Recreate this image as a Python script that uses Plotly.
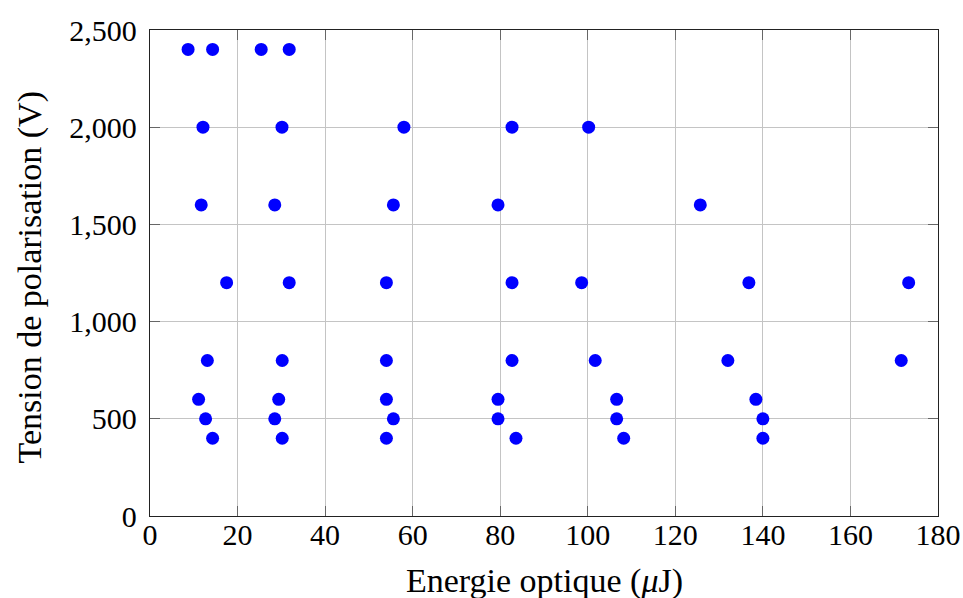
import plotly.graph_objects as go

# Energie optique (µJ) and Tension de polarisation (V)
energy_2400 = [8.7, 14.3, 25.4, 31.8]
energy_2000 = [12.1, 30.15, 58.0, 82.7, 100.2]
energy_1600 = [11.7, 28.5, 55.6, 79.5, 125.7]
energy_1200 = [17.5, 31.8, 54.0, 82.7, 98.6, 136.8, 173.3]
energy_800 = [13.1, 30.2, 54.0, 82.7, 101.7, 132.0, 171.6]
energy_600 = [11.1, 29.4, 54.0, 79.5, 106.6, 138.4]
energy_500 = [12.7, 28.5, 55.6, 79.5, 106.6, 140.0]
energy_400 = [14.3, 30.2, 54.0, 83.6, 108.2, 140.0]

groups = [
    (2400, energy_2400), (2000, energy_2000), (1600, energy_1600),
    (1200, energy_1200), (800, energy_800), (600, energy_600),
    (500, energy_500), (400, energy_400),
]

x_vals, y_vals = [], []
for v, es in groups:
    for e in es:
        x_vals.append(e)
        y_vals.append(v)

x_ticks = [0, 20, 40, 60, 80, 100, 120, 140, 160, 180]
y_ticks = [0, 500, 1000, 1500, 2000, 2500]

x_title = "Energie optique (<i>μ</i>J)"
y_title = "Tension de polarisation (V)"

FONT = "Liberation Serif"

fig = go.Figure()
fig.add_trace(go.Scatter(
    x=x_vals, y=y_vals, mode="markers",
    marker=dict(color="#0000ff", size=13, line=dict(width=0)),
    showlegend=False,
))

axis_common = dict(
    showline=True, linecolor="#222222", linewidth=1.3, mirror="ticks",
    ticks="inside", ticklen=10, tickcolor="#666666", tickwidth=1,
    showgrid=True, gridcolor="#c4c4c4", gridwidth=1,
    zeroline=False, automargin=False,
    tickfont=dict(family=FONT, size=30, color="black"),
)

fig.update_xaxes(
    range=[0, 180], tickvals=x_ticks, ticktext=[str(t) for t in x_ticks],
    ticklabelstandoff=-8,
    **axis_common,
)
fig.update_yaxes(
    range=[0, 2500], tickvals=y_ticks, ticktext=[f"{t:,}" for t in y_ticks],
    ticklabelstandoff=6,
    **axis_common,
)

fig.add_annotation(
    text=x_title, xref="paper", yref="paper", x=0.5, y=-0.1337,
    xanchor="center", yanchor="middle", showarrow=False,
    font=dict(family=FONT, size=34, color="black"),
)
fig.add_annotation(
    text=y_title, xref="paper", yref="paper", x=-0.1523, y=0.4907,
    xanchor="center", yanchor="middle", showarrow=False, textangle=-90,
    font=dict(family=FONT, size=34, color="black"),
)

fig.update_layout(
    width=963, height=598,
    margin=dict(l=150, r=25, t=30, b=82),
    plot_bgcolor="white", paper_bgcolor="white",
    font=dict(family=FONT, color="black"),
)

fig.write_html(
    "out.html",
    config={"displayModeBar": False},
    post_script="document.body.style.margin='0';document.body.style.overflow='hidden';",
)
